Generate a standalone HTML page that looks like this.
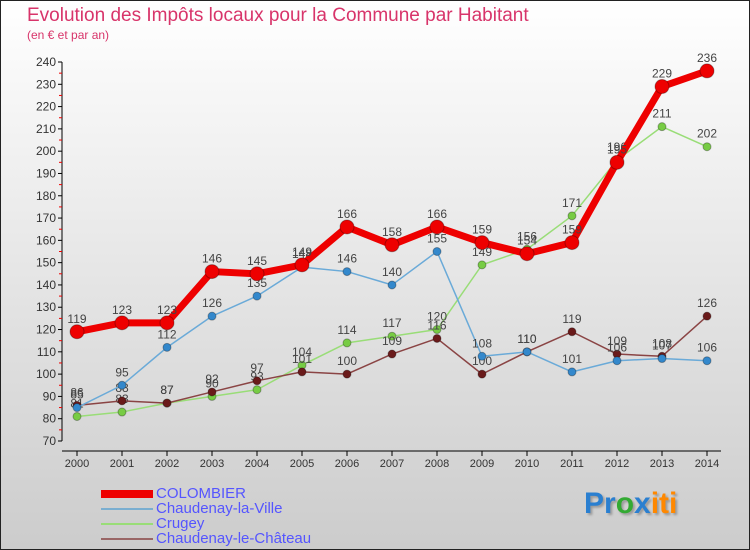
<!DOCTYPE html>
<html><head><meta charset="utf-8"><style>
body{margin:0;width:750px;height:550px;overflow:hidden;font-family:"Liberation Sans",sans-serif}
#wrap{position:relative;width:748px;height:548px;border:1px solid #222;background:linear-gradient(#ffffff,#cccccc)}
.t{position:absolute;color:#d8346a}
.lg{position:absolute;left:155px;font-size:15px;color:#5555ff;line-height:15px}
.sw{position:absolute;left:100px;width:52px}
</style></head><body>
<div id="wrap">
<div class="t" style="left:26px;top:4px;font-size:19px">Evolution des Impôts locaux pour la Commune par Habitant</div>
<div class="t" style="left:26px;top:27px;font-size:12px">(en € et par an)</div>
<svg id="c" width="750" height="480" style="position:absolute;left:0;top:0"></svg>
<div class="sw" style="top:489px;height:8px;background:#e00"></div>
<div class="lg" style="top:485px">COLOMBIER</div>
<div class="sw" style="top:507px;height:2px;background:#7aaed0"></div>
<div class="lg" style="top:500px">Chaudenay-la-Ville</div>
<div class="sw" style="top:522px;height:2px;background:#99dd77"></div>
<div class="lg" style="top:515px">Crugey</div>
<div class="sw" style="top:537px;height:2px;background:#996666"></div>
<div class="lg" style="top:530px">Chaudenay-le-Château</div>
<div style="position:absolute;left:583px;top:486px;font-size:30px;font-weight:bold;text-shadow:2px 2px 2px #999"><span style="color:#2a7fd0">Pr</span><span style="color:#3a3">o</span><span style="color:#2a7fd0">x</span><span style="color:#f80">iti</span></div>
</div>
<script>
const years=[2000,2001,2002,2003,2004,2005,2006,2007,2008,2009,2010,2011,2012,2013,2014];
const colombier=[119,123,123,146,145,149,166,158,166,159,154,159,195,229,236];
const laVille=[85,95,112,126,135,148,146,140,155,108,110,101,106,107,106];
const crugey=[81,83,87,90,93,104,114,117,120,149,156,171,196,211,202];
const leChateau=[86,88,87,92,97,101,100,109,116,100,110,119,109,108,126];
const yTicks=[70,80,90,100,110,120,130,140,150,160,170,180,190,200,210,220,230,240];
const NS="http://www.w3.org/2000/svg";
const svg=document.getElementById('c');
const x=i=>76+i*45;
const y=v=>440-(v-70)*(379/170);
function mk(t,a,p){const e=document.createElementNS(NS,t);for(const k in a)e.setAttribute(k,a[k]);(p||svg).appendChild(e);return e;}
let ax=mk('line',{x1:61,y1:61,x2:61,y2:440,stroke:'#000','stroke-width':1});


let bx=mk('line',{x1:61,y1:450,x2:720,y2:450,stroke:'#000','stroke-width':1});


yTicks.forEach((v,i)=>{
 mk('line',{x1:57,y1:y(v),x2:61,y2:y(v),stroke:'#000'});
 if(i<yTicks.length-1)mk('line',{x1:58,y1:y(v+5),x2:61,y2:y(v+5),stroke:'#e00'});
 const t=mk('text',{x:55,y:y(v)+4,'text-anchor':'end','font-size':12,fill:'#333'});
 t.textContent=v;
 
 
});
years.forEach((yr,i)=>{
 mk('line',{x1:x(i),y1:450,x2:x(i),y2:455,stroke:'#000'});
 const t=mk('text',{x:x(i),y:466,'text-anchor':'middle','font-size':11,fill:'#333'});
 t.textContent=yr;
 
 
});
function series(d,col,w,r,name,fill){
 const g=mk('g',{});
 
 
 mk('polyline',{points:d.map((v,i)=>x(i)+','+y(v)).join(' '),fill:'none',stroke:col,'stroke-width':w,'stroke-linejoin':'round'},g);
 d.forEach((v,i)=>{
  mk('circle',{cx:x(i),cy:y(v),r:r,fill:fill,stroke:'rgba(0,0,0,0.3)'},g);
  const t=mk('text',{x:x(i),y:y(v)-9,'text-anchor':'middle','font-size':12,fill:'#444'},g);
  t.textContent=v;
 });
}
series(crugey,'#99dd77',1.5,4,'series-crugey','#77cc44');
series(leChateau,'#8a4444',1.5,4,'series-chaudenay-le-chateau','#6a1a1a');
series(laVille,'#6aaad8',1.5,4,'series-chaudenay-la-ville','#3388cc');
series(colombier,'#ee0000',7,7,'series-colombier','#ee0000');
</script>
</body></html>
